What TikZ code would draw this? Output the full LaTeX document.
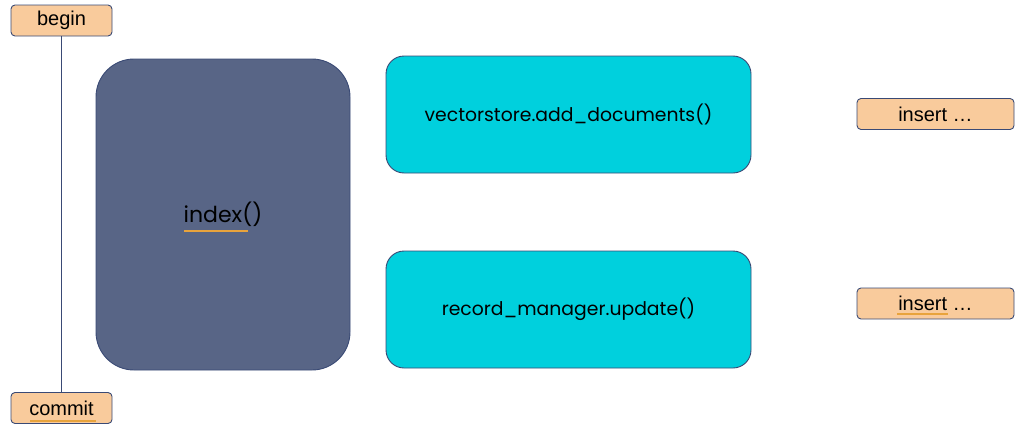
\documentclass[tikz,border=0pt]{standalone}
\usepackage{fontspec}
\setmainfont{Liberation Sans}
\newfontfamily\slidefont{Poppins}
\definecolor{tagfill}{HTML}{F9CB9C}
\definecolor{edgeblue}{HTML}{3A4A75}
\definecolor{slate}{HTML}{586586}
\definecolor{aqua}{HTML}{00D0DD}
\definecolor{squiggle}{HTML}{E8A33C}
\tikzset{
  tag/.style={draw=edgeblue, fill=tagfill, rounded corners=4pt, line width=0.9pt,
    minimum width=101pt, minimum height=31pt, inner sep=0pt, font=\fontsize{20}{22}\selectfont},
  callbox/.style={draw=edgeblue, fill=aqua, rounded corners=18pt, line width=0.9pt,
    minimum width=365pt, minimum height=117pt, inner sep=0pt, font=\slidefont\fontsize{18.8}{22}\selectfont},
  mark line/.style={squiggle, line width=2pt}
}
\begin{document}
\begin{tikzpicture}[x=1pt,y=-1pt]
\useasboundingbox (0,0) rectangle (1024,431);
\node[tag] (begin) at (61.5,20.5) {begin};
\node[tag] (commit) at (61.5,408) {commit};
\draw[edgeblue, line width=0.9pt] (begin) -- (commit);
\node[draw=edgeblue, fill=slate, rounded corners=38pt, line width=0.9pt,
  minimum width=254pt, minimum height=311pt, inner sep=0pt,
  font=\slidefont\fontsize{22}{26}\selectfont] (index) at (223,214.5) {index()};
\node[callbox] (vstore) at (568.5,114.5) {vectorstore.add\_documents()};
\node[callbox] (rmgr) at (568.5,309.5) {record\_manager.update()};
\node[tag, minimum width=157pt] (insa) at (935.5,114) {insert \dots};
\node[tag, minimum width=157pt] (insb) at (935.5,303.5) {insert \dots};
% spell-check marks
\draw[mark line] (184,230.5) -- (248,230.5);
\draw[mark line] (30,420.5) -- (96,420.5);
\draw[mark line] (897,313.5) -- (948,313.5);
\end{tikzpicture}
\end{document}
